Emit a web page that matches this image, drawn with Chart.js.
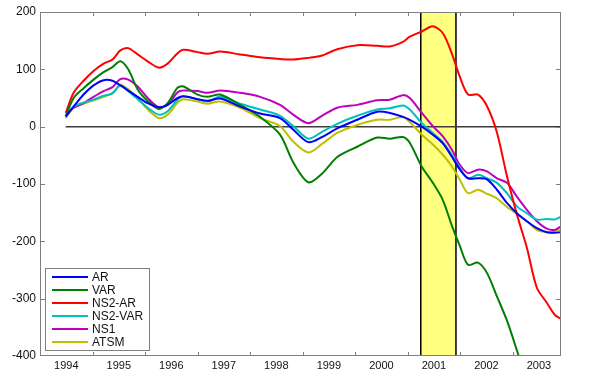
<!DOCTYPE html>
<html>
<head>
<meta charset="utf-8">
<script src="https://cdn.jsdelivr.net/npm/chart.js@4/dist/chart.umd.min.js"></script>
<style>
  html, body { margin: 0; padding: 0; background: #fff; }
  #wrap { width: 600px; height: 389px; }
</style>
</head>
<body>
<div id="wrap"><canvas id="errChart" width="600" height="389"></canvas></div>
<script>
// time axis (fractional years)
const years = [1994.49, 1994.64, 1994.83, 1995.02, 1995.21, 1995.38, 1995.53, 1995.68, 1995.86, 1996.05,
  1996.26, 1996.43, 1996.62, 1996.73, 1997.00, 1997.19, 1997.43, 1997.81, 1998.19, 1998.57,
  1998.82, 1999.11, 1999.37, 1999.66, 2000.04, 2000.42, 2000.66, 2000.91, 2001.04, 2001.27,
  2001.48, 2001.67, 2001.84, 2001.99, 2002.15, 2002.34, 2002.51, 2002.70, 2002.89, 2003.08,
  2003.27, 2003.46, 2003.65, 2003.80, 2003.92];

const ar = [18, 35, 56, 72, 81, 80, 72, 63, 52, 41, 34, 38, 50, 53, 48, 45, 49, 35, 23, 15,
  -5, -27, -18, -3, 12, 26, 24, 17, 12, 0, -14, -29, -52, -74, -90, -90, -92, -110, -133, -151,
  -165, -177, -184, -185, -184];
const varS = [18, 50, 67, 82, 95, 104, 114, 100, 65, 45, 31, 41, 68, 70, 56, 52, 56, 38, 17, -14,
  -62, -97, -82, -53, -35, -19, -21, -18, -28, -70, -98, -128, -172, -207, -241, -237, -255, -296, -338, -390,
  -445, null, null, null, null];
const ns2ar = [24, 59, 80, 97, 110, 117, 133, 137, 126, 114, 103, 110, 128, 134, 130, 127, 131, 126, 121, 118,
  117, 120, 124, 135, 142, 141, 140, 148, 157, 166, 175, 163, 128, 88, 56, 56, 36, -10, -86, -153,
  -211, -281, -307, -328, -335];
const ns2var = [18, 35, 42, 47, 54, 58, 72, 62, 48, 33, 21, 27, 47, 53, 48, 44, 52, 40, 30, 19,
  1, -21, -9, 5, 19, 30, 32, 37, 30, 6, -11, -27, -49, -72, -90, -84, -90, -98, -116, -139,
  -151, -162, -161, -162, -157];
const ns1 = [18, 33, 41, 52, 62, 69, 83, 82, 70, 50, 34, 38, 60, 63, 62, 59, 63, 59, 52, 38,
  21, 6, 19, 33, 38, 46, 47, 55, 50, 24, 1, -17, -40, -66, -81, -75, -78, -90, -98, -122,
  -145, -165, -178, -180, -174];
const atsm = [15, 33, 40, 46, 52, 59, 73, 65, 50, 30, 15, 21, 42, 48, 44, 40, 44, 33, 15, 1,
  -26, -45, -30, -11, 3, 12, 12, 17, 8, -14, -31, -49, -69, -92, -116, -110, -117, -125, -140, -152,
  -165, -180, -184, -182, -180];

const seriesNames = ['AR', 'VAR', 'NS2-AR', 'NS2-VAR', 'NS1', 'ATSM'];
const seriesColors = ['#0000ff', '#007f00', '#ff0000', '#00bfbf', '#bf00bf', '#bfbf00'];
const yearLabels = [1994, 1995, 1996, 1997, 1998, 1999, 2000, 2001, 2002, 2003];
const recession = [2001.25, 2001.92];
const zeroFrom = 1994.49;

const allSeries = [ar, varS, ns2ar, ns2var, ns1, atsm];

const datasets = allSeries.map((vals, i) => ({
  label: seriesNames[i],
  data: vals.map((v, j) => ({ x: years[j], y: v })),
  borderColor: seriesColors[i],
  backgroundColor: seriesColors[i],
  borderWidth: 2,
  pointRadius: 0,
  tension: 0.3,
  fill: false
}));

const matlabAxes = {
  id: 'matlabAxes',
  beforeDatasetsDraw(chart) {
    const { ctx, chartArea: a, scales: { x, y } } = chart;
    ctx.save();
    // recession band
    const x0 = x.getPixelForValue(recession[0]);
    const x1 = x.getPixelForValue(recession[1]);
    ctx.fillStyle = '#ffff80';
    ctx.fillRect(x0, a.top, x1 - x0, a.bottom - a.top);
    ctx.strokeStyle = '#000';
    ctx.lineWidth = 1.5;
    ctx.beginPath();
    ctx.moveTo(x0, a.top); ctx.lineTo(x0, a.bottom);
    ctx.moveTo(x1, a.top); ctx.lineTo(x1, a.bottom);
    ctx.stroke();
    // zero line
    const y0 = y.getPixelForValue(0);
    ctx.strokeStyle = '#3c3c3c';
    ctx.lineWidth = 1.5;
    ctx.beginPath();
    ctx.moveTo(x.getPixelForValue(zeroFrom), y0);
    ctx.lineTo(a.right, y0);
    ctx.stroke();
    ctx.restore();
  },
  afterDatasetsDraw(chart) {
    const { ctx, chartArea: a, scales: { x, y } } = chart;
    ctx.save();
    ctx.strokeStyle = '#7f7f7f';
    ctx.lineWidth = 1;
    ctx.strokeRect(a.left + 0.5, a.top + 0.5, a.right - a.left - 1, a.bottom - a.top - 1);
    // inward tick marks
    ctx.beginPath();
    for (let yr = 1995; yr <= 2003; yr++) {
      const px = Math.round(x.getPixelForValue(yr)) + 0.5;
      ctx.moveTo(px, a.bottom); ctx.lineTo(px, a.bottom - 4);
      ctx.moveTo(px, a.top); ctx.lineTo(px, a.top + 4);
    }
    for (let v = -300; v <= 100; v += 100) {
      const py = Math.round(y.getPixelForValue(v)) + 0.5;
      ctx.moveTo(a.left, py); ctx.lineTo(a.left + 5, py);
      ctx.moveTo(a.right, py); ctx.lineTo(a.right - 5, py);
    }
    ctx.stroke();

    // legend box, lower left inside the axes
    const bx = a.left + 5, by = a.top + 256, bw = 104, bh = 82;
    ctx.fillStyle = '#fff';
    ctx.fillRect(bx, by, bw, bh);
    ctx.strokeStyle = '#7f7f7f';
    ctx.strokeRect(bx + 0.5, by + 0.5, bw, bh);
    ctx.font = '12px "Liberation Sans", Arial, sans-serif';
    ctx.textBaseline = 'middle';
    seriesNames.forEach((name, i) => {
      const ry = by + 9 + i * 13;
      ctx.strokeStyle = seriesColors[i];
      ctx.lineWidth = 2;
      ctx.beginPath();
      ctx.moveTo(bx + 7, ry); ctx.lineTo(bx + 43, ry);
      ctx.stroke();
      ctx.fillStyle = '#111';
      ctx.fillText(name, bx + 47, ry + 1);
    });
    ctx.restore();
  }
};

const ctx = document.getElementById('errChart').getContext('2d');
const errChart = new Chart(ctx, {
  type: 'line',
  data: { datasets: datasets },
  options: {
    responsive: false,
    animation: false,
    layout: { padding: { top: 12, right: 39, left: 0, bottom: 0 } },
    plugins: { legend: { display: false }, tooltip: { enabled: false } },
    scales: {
      x: {
        type: 'linear',
        min: 1994,
        max: 2003.92,
        grid: { display: false, drawTicks: false },
        border: { display: false },
        afterBuildTicks: (scale) => {
          scale.ticks = yearLabels.map(yr => ({ value: yr + 0.5 }));
        },
        afterFit: (scale) => { scale.height = 33; },
        ticks: {
          autoSkip: false,
          maxRotation: 0,
          padding: 3,
          color: '#111',
          font: { family: '"Liberation Sans", Arial, sans-serif', size: 11 },
          callback: (v) => String(Math.floor(v))
        }
      },
      y: {
        min: -400,
        max: 200,
        grid: { display: false, drawTicks: false },
        border: { display: false },
        afterFit: (scale) => { scale.width = 40; },
        ticks: {
          stepSize: 100,
          padding: 4,
          color: '#111',
          font: { family: '"Liberation Sans", Arial, sans-serif', size: 12 }
        }
      }
    }
  },
  plugins: [matlabAxes]
});
</script>
</body>
</html>
